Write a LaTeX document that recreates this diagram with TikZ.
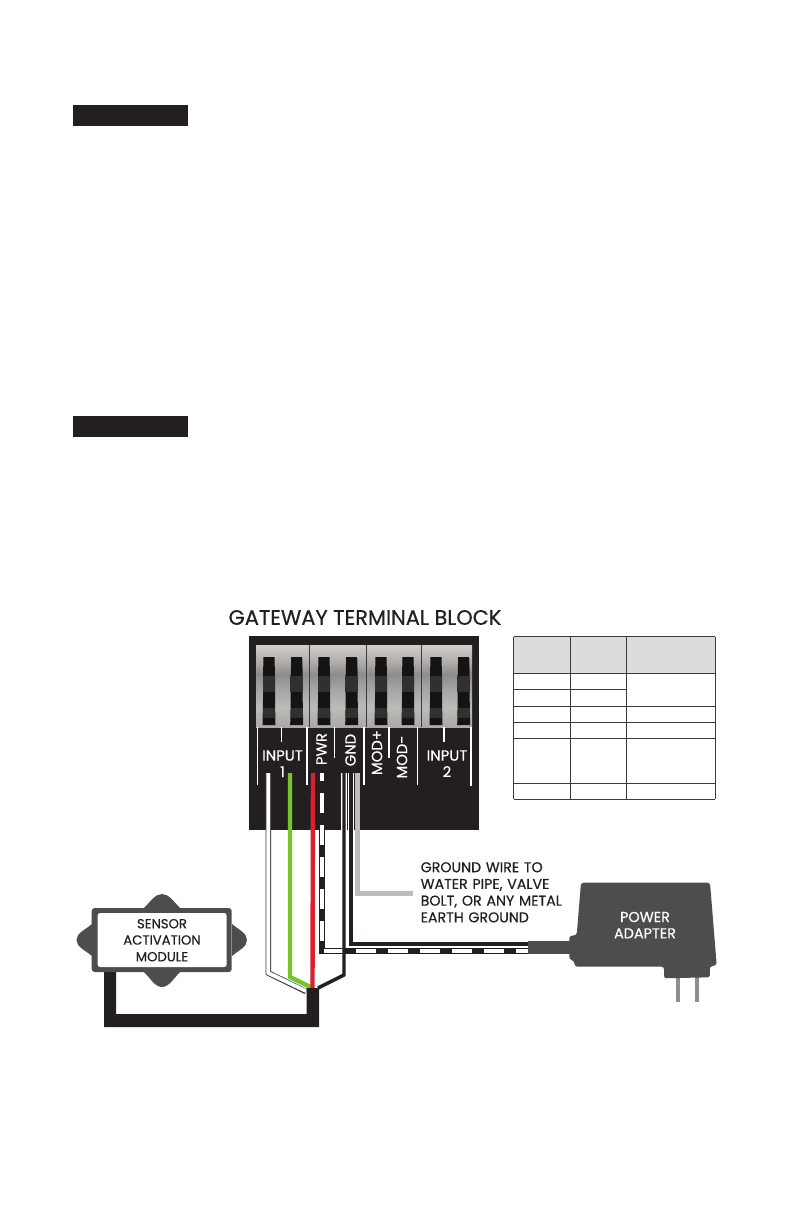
\documentclass[tikz,border=0pt]{standalone}
\usepackage{fontspec}
\setmainfont{Poppins}[FakeBold=0.45]
\definecolor{bandA}{HTML}{D2CECA}
\definecolor{bandB}{HTML}{ABA9A6}
\definecolor{bandC}{HTML}{BDBBB8}
\definecolor{bandD}{HTML}{A3A19F}
\definecolor{bandE}{HTML}{8E8C8A}
\definecolor{bandF}{HTML}{B5B1AE}
\pgfdeclareverticalshading{photoshade}{100bp}{
 color(0bp)=(bandB); color(25bp)=(bandB); color(37bp)=(bandC); color(50bp)=(bandD); color(57bp)=(bandE); color(66bp)=(bandF); color(75bp)=(bandA); color(100bp)=(bandA)}
\definecolor{inkblack}{HTML}{231F20}
\definecolor{adaptergrey}{HTML}{4D4D4F}
\definecolor{wiregrey}{HTML}{BDBDBD}
\definecolor{wiregreen}{HTML}{75C52B}
\definecolor{wirered}{HTML}{D9202E}
\definecolor{headgrey}{HTML}{DCDCDC}
\definecolor{gridgrey}{HTML}{3A3A3A}
\definecolor{pingrey}{HTML}{8E8E8E}
\definecolor{switchlobe}{HTML}{303030}
\definecolor{switchdark}{HTML}{141414}
\tikzset{
 lbl/.style={font=\fontsize{#1}{#1}\selectfont,inner sep=0pt,text=inkblack},
 wlbl/.style={font=\fontsize{#1}{#1}\selectfont,inner sep=0pt,text=white},
 divider/.style={white,line width=1.5pt},
 gridline/.style={gridgrey,line width=0.9pt},
 wirejoin/.style={line join=miter,line cap=butt}
}
\begin{document}
\begin{tikzpicture}[x=1pt,y=-1pt]
\useasboundingbox (0,0) rectangle (792,1224);
% section bars
\fill[inkblack] (73,105) rectangle (188,126);
\fill[inkblack] (73,416) rectangle (188,437);
% title
\node[lbl=20.9] (title) at (365,617.5) {GATEWAY TERMINAL BLOCK};
% terminal block
\fill[inkblack] (249,636) rectangle (479,830);
\shade[shading=photoshade] (256,645) rectangle (472,727);
\foreach \xb in {309,366,421}{\draw[gridgrey,line width=0.7pt] (\xb,645) -- (\xb,727);}
\foreach \sx in {269,296.7,324,351.7,381,408,436,463.7}{
 \fill[switchdark] (\sx-5.5,657) -- (\sx+5.5,657) -- (\sx+6,676) -- (\sx+6,700) -- (\sx+6.5,725) -- (\sx-6.5,725) -- (\sx-6,700) -- (\sx-6,676) -- cycle;
 \fill[switchlobe] (\sx-6.3,676) rectangle (\sx+6.3,692);
 \fill[switchlobe] (\sx-6,708) rectangle (\sx+6,718);
}
% dividers
\foreach \dx/\dy in {257.5/785,281.5/741.5,307/785,334.5/758,364/785,389/758,417.5/785,444/741.5,471/786}{
 \draw[divider] (\dx,727) -- (\dx,\dy);
}
% terminal labels
\node[wlbl=14.8] (input1) at (282.5,755.5) {INPUT};
\node[wlbl=14.8,anchor=base] (one) at (282.5,777) {1};
\node[wlbl=14.8,rotate=90] (pwr) at (321.5,749) {PWR};
\node[wlbl=14.8,rotate=90] (gnd) at (350.5,750) {GND};
\node[wlbl=14.8,rotate=90] (modp) at (377,752.5) {MOD+};
\node[wlbl=14.8,rotate=90] (modm) at (402,757) {MOD-};
\node[wlbl=14.8] (input2) at (447,755.5) {INPUT};
\node[wlbl=14.8,anchor=base] (two) at (447,777) {2};
% table
\fill[headgrey] (513.7,636.7) rectangle (715.3,673.3);
\foreach \ry in {636.7,673.3,722.3,738.3,783.3,799}{\draw[gridline] (513.7,\ry) -- (715.3,\ry);}
\draw[gridline] (513.7,689) -- (626.7,689);
\draw[gridline] (513.7,706) -- (715.3,706);
\foreach \cx in {513.7,570.3,626.7,715.3}{\draw[gridline] (\cx,636.7) -- (\cx,799);}
% anchor points for the wires
\coordinate (whiteTop) at (268.3,773);
\coordinate (whiteBend) at (268.3,973);
\coordinate (greenTop) at (290,773);
\coordinate (greenBend) at (290,977);
\coordinate (redTop) at (313,773);
\coordinate (junction) at (312.5,988);
\coordinate (gndOneTop) at (344,773);
\coordinate (gndOneBend) at (344,975);
\coordinate (gndTwoTop) at (351,773);
\coordinate (gndTwoBend) at (351,944);
\coordinate (plugEnd) at (527.5,944);
\coordinate (plugEndB) at (527.5,951);
\coordinate (pwrTop) at (322,773);
\coordinate (pwrCorner) at (322,951);
\coordinate (greyTop) at (357.5,773);
\coordinate (greyBend) at (357.5,893.5);
\coordinate (greyEnd) at (413,893.5);
% white wire
\draw[gridgrey,line width=5.6pt,wirejoin] (whiteTop) -- (whiteBend) -- (306,991.5);
\draw[white,line width=3.8pt,wirejoin] (whiteTop) -- (whiteBend) -- (306,991);
% green
\draw[wiregreen,line width=4.4pt,wirejoin] (greenTop) -- (greenBend) -- (junction);
% red
\draw[wirered,line width=4.4pt,wirejoin] (redTop) -- (junction);
% power (striped) wire
\draw[inkblack,line width=5.4pt,wirejoin] (pwrTop) -- (pwrCorner) -- (plugEndB);
\draw[white,line width=3.6pt,dash pattern=on 20pt off 12pt] (322,941) -- (pwrTop);
\draw[white,line width=3.6pt,dash pattern=on 20pt off 12pt] (324,951) -- (plugEndB);
% ground pair
\draw[white,line width=5.6pt,wirejoin] (gndOneTop) -- (344,947);
\draw[inkblack,line width=3.4pt,wirejoin] (gndOneTop) -- (gndOneBend) -- (318,988);
\draw[white,line width=5.6pt,wirejoin] (gndTwoTop) -- (gndTwoBend);
\draw[inkblack,line width=3.6pt,wirejoin] (gndTwoTop) -- (gndTwoBend) -- (plugEnd);
\draw[wiregrey,line width=4.6pt,wirejoin] (greyTop) -- (greyBend) -- (greyEnd);
% bundle to the module
\fill[inkblack] (306.7,988) -- (319,988) -- (319,1027) -- (104,1027) -- (104,971) -- (116,971) -- (116,1014) -- (306.7,1014) -- cycle;
% ground label
\node[lbl=14.2,align=left,anchor=north west,text width=170pt,font=\fontsize{14.2}{16.7}\selectfont] (groundnote) at (420.5,862) {GROUND WIRE TO\\WATER PIPE, VALVE\\BOLT, OR ANY METAL\\EARTH GROUND};
% sensor module
\fill[adaptergrey] (144,908) .. controls (150,902) and (155,894) .. (162,894) .. controls (169,894) and (174,902) .. (180,908) -- cycle;
\fill[adaptergrey] (144,972) .. controls (150,978) and (155,987) .. (162,987) .. controls (169,987) and (174,978) .. (180,972) -- cycle;
\fill[adaptergrey] (92,924) .. controls (85,930) and (76.5,933) .. (76.5,940) .. controls (76.5,947) and (85,950) .. (92,956) -- cycle;
\fill[adaptergrey] (232,924) .. controls (239,930) and (247,933) .. (247,940) .. controls (247,947) and (239,950) .. (232,956) -- cycle;
\fill[adaptergrey,rounded corners=3pt] (91.7,908) rectangle (231.7,972);
\fill[white,rounded corners=2.5pt] (97.7,913) rectangle (226.7,967);
\node[lbl=13.2] (s1) at (162,923.7) {SENSOR};
\node[lbl=13.2] (s2) at (162,940) {ACTIVATION};
\node[lbl=13.2] (s3) at (162,956.7) {MODULE};
% power adapter
\fill[pingrey] (676,975) rectangle (680,1001.7);
\fill[pingrey] (694.5,975) rectangle (699,1001.7);
\fill[adaptergrey] (527.5,941) rectangle (572,954.3);
\fill[adaptergrey,rounded corners=2.5pt] (581,882.7) -- (710,882.7) -- (716.7,965) -- (709.7,966.7) -- (710,977.3) -- (664,978.3) -- (664,966.7) -- (575,966.7) -- (574,960.7) -- (569.3,959.3) -- (569.3,936) -- (576.7,935) -- cycle;
\node[wlbl=14.4] (p1) at (645,917) {POWER};
\node[wlbl=14.4] (p2) at (645,933.3) {ADAPTER};
\end{tikzpicture}
\end{document}
